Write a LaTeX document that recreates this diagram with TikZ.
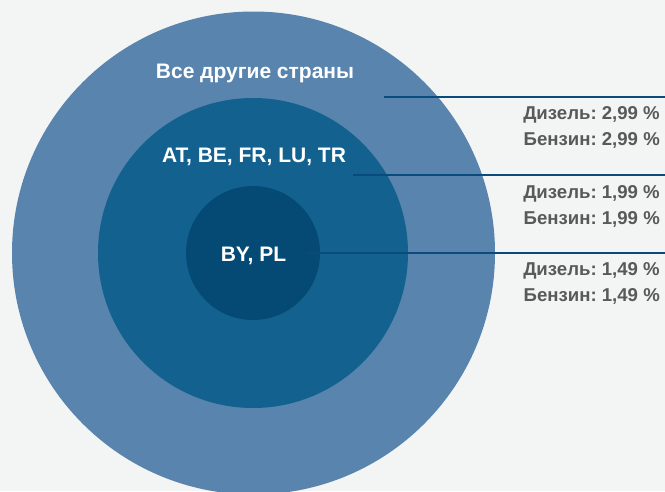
\documentclass[tikz,border=0pt]{standalone}
\usepackage{fontspec}
\setmainfont{Liberation Sans}
\usetikzlibrary{calc}
\frenchspacing

\definecolor{bggray}{HTML}{F3F4F4}
\definecolor{outerblue}{HTML}{5884AE}
\definecolor{midblue}{HTML}{13618F}
\definecolor{innerblue}{HTML}{044A75}
\definecolor{linkblue}{HTML}{0B4A7C}
\definecolor{textgray}{HTML}{595959}

\begin{document}
\begin{tikzpicture}
	[x=1pt,y=-1pt,
	ring/.style={shape=circle,inner sep=0pt,outer sep=0pt,draw=none},
	zonelabel/.style={anchor=base,text=white,font=\fontsize{21}{24}\selectfont\bfseries},
	pricelabel/.style={anchor=base east,text=textgray,inner sep=0pt,font=\fontsize{18.6}{21}\selectfont\bfseries},
	link/.style={draw=linkblue,line width=2pt}]
	\useasboundingbox (0,0) rectangle (665,491);
	\clip (0,0) rectangle (665,491);
	\fill[bggray] (0,0) rectangle (665,491);
	
	% zones
	\node[ring,fill=outerblue,minimum size=483pt] (outer) at (253.5,253) {};
	\node[ring,fill=midblue,minimum size=310pt] (mid) at (253,253) {};
	\node[ring,fill=innerblue,minimum size=134pt] (inner) at (253,253) {};
	
	\node[zonelabel] (l1) at (255,78) {Все другие страны};
	\node[zonelabel] (l2) at (254,162) {AT, BE, FR, LU, TR};
	\node[zonelabel] (l3) at (253.5,261) {BY, PL};
	
	% links and prices
	\foreach \name/\xs/\y/\price in {a/384/96.5/{2,99},b/353/175/{1,99},c/307/252.5/{1,49}}
	{
		\coordinate (\name s) at (\xs,\y);
		\coordinate (\name e) at (665,\y);
		\path (\name s) edge[link] (\name e);
		\node[pricelabel] (\name d) at ($(\name e)+(-5,23)$) {Дизель: \price\ \%};
		\node[pricelabel] (\name b) at ($(\name e)+(-5,49)$) {Бензин: \price\ \%};
	};
\end{tikzpicture}
\end{document}
